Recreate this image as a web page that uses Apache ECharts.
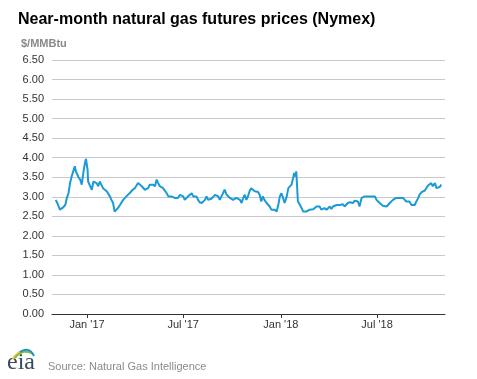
<!DOCTYPE html>
<html>
<head>
<meta charset="utf-8">
<script src="https://cdn.jsdelivr.net/npm/echarts@6/dist/echarts.min.js"></script>
<style>html,body{margin:0;padding:0;background:#fff;}#c{width:477px;height:379px;}</style>
</head>
<body>
<div id="c"></div>
<script>
const titleText = "Near-month natural gas futures prices (Nymex)";
const unitText = "$/MMBtu";
const sourceText = "Source: Natural Gas Intelligence";
const axisMin = "2016-10-27";
const axisMax = "2018-11-06";
const xTickDates = ["2017-01-01", "2017-07-01", "2018-01-01", "2018-07-01"];
const xTickLabels = ["Jan '17", "Jul '17", "Jan '18", "Jul '18"];
const yTicks = [0, 0.5, 1, 1.5, 2, 2.5, 3, 3.5, 4, 4.5, 5, 5.5, 6, 6.5];
const dates = [
"2016-11-03","2016-11-06","2016-11-11","2016-11-14","2016-11-17","2016-11-21","2016-11-24","2016-11-27","2016-11-30","2016-12-03",
"2016-12-06","2016-12-09","2016-12-11","2016-12-14","2016-12-16","2016-12-19","2016-12-22","2016-12-25","2016-12-28","2016-12-30",
"2017-01-02","2017-01-03","2017-01-06","2017-01-10","2017-01-13","2017-01-16","2017-01-19","2017-01-22","2017-01-25","2017-01-28",
"2017-01-31","2017-02-03","2017-02-07","2017-02-10","2017-02-13","2017-02-16","2017-02-19","2017-02-22","2017-02-24","2017-02-28",
"2017-03-04","2017-03-07","2017-03-10","2017-03-13","2017-03-16","2017-03-19","2017-03-22","2017-03-25","2017-03-28","2017-04-01",
"2017-04-04","2017-04-07","2017-04-10","2017-04-14","2017-04-17","2017-04-20","2017-04-23","2017-04-26","2017-04-29","2017-05-02",
"2017-05-05","2017-05-09","2017-05-12","2017-05-15","2017-05-18","2017-05-21","2017-05-24","2017-05-27","2017-05-31","2017-06-03",
"2017-06-06","2017-06-09","2017-06-12","2017-06-15","2017-06-18","2017-06-21","2017-06-25","2017-06-28","2017-07-01","2017-07-04",
"2017-07-07","2017-07-10","2017-07-13","2017-07-17","2017-07-20","2017-07-23","2017-07-26","2017-07-29","2017-08-01","2017-08-05",
"2017-08-08","2017-08-11","2017-08-14","2017-08-17","2017-08-20","2017-08-23","2017-08-26","2017-08-30","2017-09-02","2017-09-05",
"2017-09-08","2017-09-11","2017-09-14","2017-09-17","2017-09-21","2017-09-24","2017-09-27","2017-09-30","2017-10-03","2017-10-06",
"2017-10-09","2017-10-12","2017-10-16","2017-10-19","2017-10-22","2017-10-25","2017-10-28","2017-10-31","2017-11-03","2017-11-06",
"2017-11-09","2017-11-13","2017-11-16","2017-11-19","2017-11-22","2017-11-25","2017-11-28","2017-12-01","2017-12-05","2017-12-08",
"2017-12-11","2017-12-14","2017-12-17","2017-12-20","2017-12-24","2017-12-27","2017-12-30","2018-01-02","2018-01-05","2018-01-08",
"2018-01-12","2018-01-15","2018-01-18","2018-01-21","2018-01-24","2018-01-26","2018-01-28","2018-01-30","2018-01-31","2018-02-02",
"2018-02-06","2018-02-09","2018-02-12","2018-02-15","2018-02-18","2018-02-21","2018-02-24","2018-02-27","2018-03-03","2018-03-06",
"2018-03-09","2018-03-12","2018-03-15","2018-03-18","2018-03-21","2018-03-24","2018-03-28","2018-03-31","2018-04-03","2018-04-06",
"2018-04-09","2018-04-12","2018-04-16","2018-04-19","2018-04-22","2018-04-25","2018-04-28","2018-05-01","2018-05-04","2018-05-07",
"2018-05-11","2018-05-14","2018-05-17","2018-05-20","2018-05-23","2018-05-26","2018-05-29","2018-06-02","2018-06-05","2018-06-08",
"2018-06-11","2018-06-14","2018-06-17","2018-06-20","2018-06-23","2018-06-27","2018-06-30","2018-07-03","2018-07-06","2018-07-09",
"2018-07-12","2018-07-15","2018-07-19","2018-07-22","2018-07-25","2018-07-28","2018-07-31","2018-08-03","2018-08-06","2018-08-09",
"2018-08-13","2018-08-16","2018-08-19","2018-08-22","2018-08-25","2018-08-28","2018-08-31","2018-09-04","2018-09-07","2018-09-10",
"2018-09-13","2018-09-16","2018-09-19","2018-09-23","2018-09-26","2018-09-29","2018-10-02","2018-10-05","2018-10-08","2018-10-11",
"2018-10-14","2018-10-18","2018-10-21","2018-10-24","2018-10-27","2018-10-30"
];
const prices = [
2.92,2.84,2.67,2.70,2.73,2.79,2.97,3.09,3.35,3.52,
3.65,3.78,3.65,3.61,3.50,3.44,3.31,3.61,3.86,3.97,
3.69,3.39,3.35,3.18,3.39,3.44,3.35,3.27,3.39,3.39,
3.22,3.18,3.14,3.12,3.01,2.92,2.84,2.62,2.60,2.71,
2.79,2.84,2.92,2.97,3.01,2.99,3.09,3.14,3.18,3.22,
3.27,3.35,3.31,3.27,3.22,3.18,3.14,3.22,3.31,3.27,
3.31,3.27,3.44,3.35,3.27,3.31,3.22,3.18,3.09,3.01,
3.05,3.01,3.05,2.97,3.01,2.97,3.05,3.09,3.01,2.92,
2.97,3.01,3.05,3.09,3.01,2.97,3.01,2.92,2.86,2.84,
2.88,2.92,3.01,2.92,2.97,2.95,2.97,3.05,3.09,3.01,
2.92,3.01,3.09,3.18,3.05,3.01,2.97,3.01,2.92,2.88,
2.97,3.01,2.92,2.84,2.97,3.05,2.92,3.01,3.14,3.22,
3.22,3.14,3.09,3.12,3.05,2.88,3.01,2.92,2.84,2.79,
2.75,2.67,2.71,2.67,2.62,2.78,3.01,3.09,2.97,2.84,
3.01,3.22,3.18,3.31,3.48,3.61,3.52,3.65,3.60,2.88,
2.79,2.71,2.62,2.58,2.62,2.62,2.67,2.66,2.68,2.71,
2.75,2.79,2.75,2.67,2.62,2.71,2.67,2.71,2.75,2.69,
2.75,2.71,2.79,2.77,2.79,2.84,2.81,2.75,2.79,2.84,
2.86,2.88,2.84,2.90,2.92,2.88,2.75,2.97,2.95,3.01,
2.97,3.01,3.05,3.01,2.97,3.01,2.92,2.88,2.84,2.79,
2.77,2.75,2.75,2.79,2.84,2.84,2.92,2.92,2.97,2.97,
2.97,3.01,2.97,2.92,2.88,2.92,2.88,2.79,2.84,2.79,
2.88,2.95,3.05,3.12,3.16,3.16,3.21,3.29,3.29,3.35,
3.27,3.35,3.22,3.27,3.25,3.31
];

const toMs = s => { const p = s.split('-').map(Number); return Date.UTC(p[0], p[1] - 1, p[2]); };
const chart = echarts.init(document.getElementById('c'), null, {renderer: 'canvas'});
const FONT = "'Liberation Sans', Arial, sans-serif";
const seriesData = dates.map((d, i) => [toMs(d), prices[i]]);
const tickTimes = xTickDates.map(toMs);

chart.setOption({
  animation: false,
  backgroundColor: '#fff',
  title: [
    {text: titleText, left: 13, top: 7,
     textStyle: {fontFamily: FONT, fontSize: 16, fontWeight: 'bold', color: '#000'}},
    {text: unitText, left: 16, top: 33,
     textStyle: {fontFamily: FONT, fontSize: 11, fontWeight: 'bold', color: '#8a8a8a'}},
    {text: sourceText, left: 43, top: 356,
     textStyle: {fontFamily: FONT, fontSize: 11, fontWeight: 'normal', color: '#8a8a8a'}}
  ],
  grid: {left: 52, right: 32, top: 60, bottom: 65, containLabel: false},
  xAxis: {
    type: 'value',
    min: toMs(axisMin),
    max: toMs(axisMax),
    scale: true,
    axisLine: {show: true, onZero: false, lineStyle: {color: '#333', width: 1}},
    axisTick: {show: true, length: 4, lineStyle: {color: '#333'}, customValues: tickTimes},
    splitLine: {show: false},
    axisLabel: {
      show: true, margin: 5, color: '#333', fontFamily: FONT, fontSize: 11,
      customValues: tickTimes,
      formatter: function (val) {
        const i = tickTimes.indexOf(+val);
        return i >= 0 ? xTickLabels[i] : '';
      }
    }
  },
  yAxis: {
    type: 'value',
    min: yTicks[0],
    max: yTicks[yTicks.length - 1],
    interval: 0.5,
    axisLine: {show: false},
    axisTick: {show: false},
    splitLine: {show: true, lineStyle: {color: '#c8c8c8', width: 1}},
    axisLabel: {
      margin: 8, color: '#333', fontFamily: FONT, fontSize: 11,
      formatter: v => v.toFixed(2)
    }
  },
  series: [{
    type: 'line',
    data: seriesData,
    showSymbol: false,
    symbol: 'none',
    smooth: false,
    lineStyle: {color: '#1b9ad6', width: 2},
    z: 3
  }],
  graphic: [
    {type: 'text', left: 7, top: 351, z: 10,
     style: {text: 'eia', fontFamily: "'Liberation Serif','DejaVu Serif',serif", fontSize: 24, fill: '#3b4a5a'}},
    {type: 'bezierCurve', z: 10,
     shape: {x1: 13, y1: 359, x2: 31, y2: 353, cpx1: 18, cpy1: 350, cpx2: 26, cpy2: 349},
     style: {stroke: '#f2c12e', lineWidth: 2, fill: null}},
    {type: 'bezierCurve', z: 10,
     shape: {x1: 15, y1: 358, x2: 33, y2: 354, cpx1: 20, cpy1: 351, cpx2: 28, cpy2: 350},
     style: {stroke: '#7bbf42', lineWidth: 2, fill: null}},
    {type: 'bezierCurve', z: 10,
     shape: {x1: 20, y1: 352, x2: 34, y2: 356, cpx1: 25, cpy1: 348, cpx2: 31, cpy2: 349},
     style: {stroke: '#1f8fd0', lineWidth: 2, fill: null}}
  ]
});
</script>
</body>
</html>
